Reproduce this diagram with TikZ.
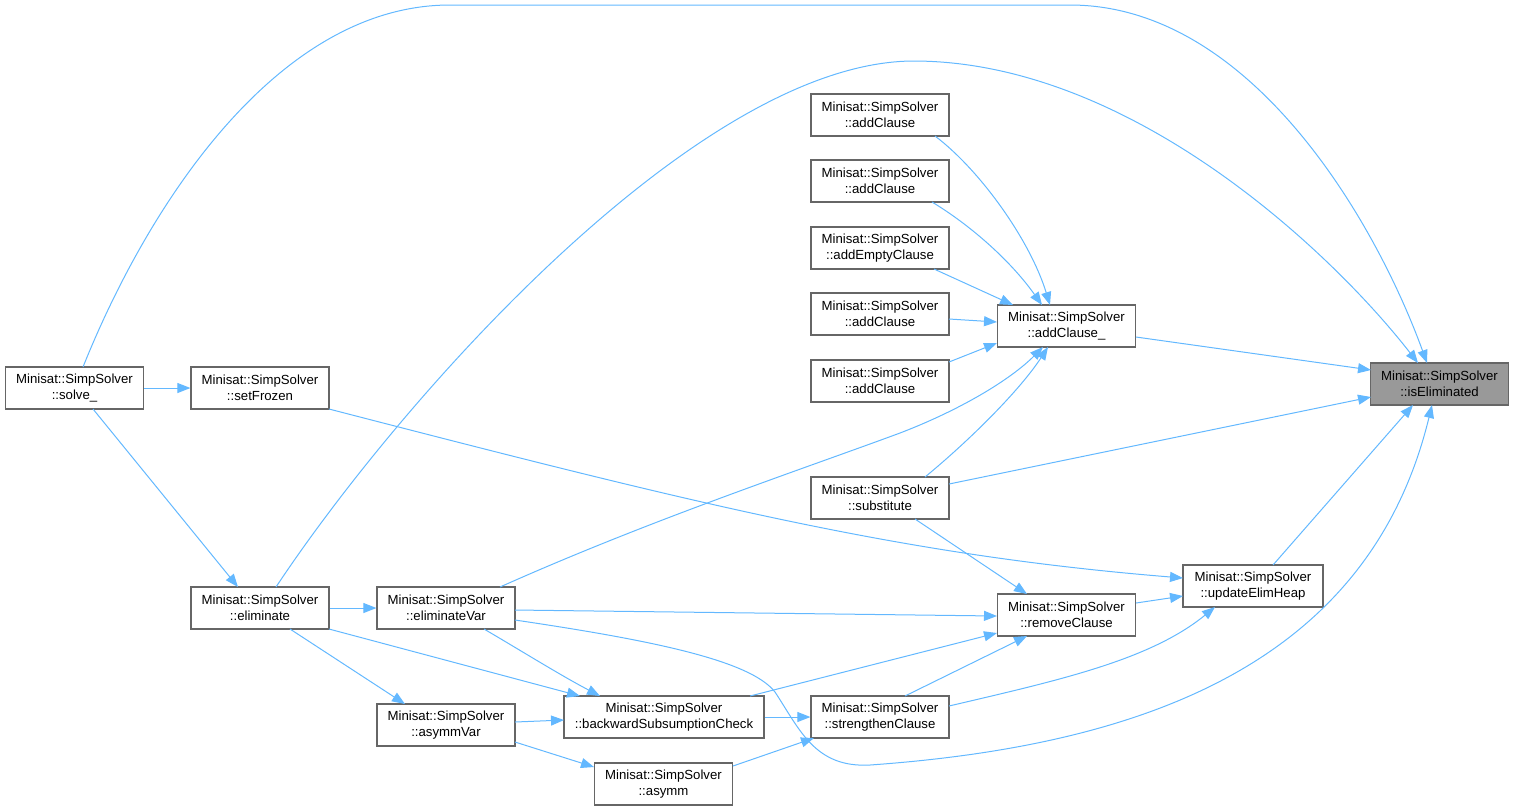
\documentclass[tikz,border=0pt]{standalone}
\usepackage{fontspec}
\setmainfont{Liberation Sans}
\usetikzlibrary{arrows.meta,calc}
\definecolor{edgeblue}{HTML}{63B8FF}
\definecolor{boxborder}{HTML}{666666}
\definecolor{focusfill}{HTML}{999999}
\tikzset{
  fn/.style={draw=boxborder, line width=0.6pt, fill=white, minimum width=69pt, minimum height=21pt,
    inner sep=0pt, align=center, font=\fontsize{6.6}{8}\selectfont},
  focus/.style={fn, fill=focusfill},
  wide/.style={minimum width=100pt},
  call/.style={draw=edgeblue, line width=0.5pt, -{Triangle[length=6.5pt,width=5pt]}},
}
\begin{document}
\begin{tikzpicture}[x=0.5pt,y=-0.5pt]
\useasboundingbox (0,0) rectangle (1514,811);
\node[focus] (isE) at (1439.5,384) {Minisat::SimpSolver\\::isEliminated};
\node[fn] (addC) at (1066.5,326) {Minisat::SimpSolver\\::addClause\_};
\node[fn] (ac1) at (880,115) {Minisat::SimpSolver\\::addClause};
\node[fn] (ac2) at (880,181) {Minisat::SimpSolver\\::addClause};
\node[fn] (aec) at (880,248) {Minisat::SimpSolver\\::addEmptyClause};
\node[fn] (ac3) at (880,314) {Minisat::SimpSolver\\::addClause};
\node[fn] (ac4) at (880,381) {Minisat::SimpSolver\\::addClause};
\node[fn] (sub) at (880,498) {Minisat::SimpSolver\\::substitute};
\node[fn] (solve) at (74.5,388) {Minisat::SimpSolver\\::solve\_};
\node[fn] (frz) at (260,388) {Minisat::SimpSolver\\::setFrozen};
\node[fn] (elim) at (260,608) {Minisat::SimpSolver\\::eliminate};
\node[fn] (ev) at (446,608) {Minisat::SimpSolver\\::eliminateVar};
\node[fn] (rc) at (1066.5,615) {Minisat::SimpSolver\\::removeClause};
\node[fn, minimum width=70pt] (ueh) at (1253,586) {Minisat::SimpSolver\\::updateElimHeap};
\node[fn, wide] (bsc) at (664,717) {Minisat::SimpSolver\\::backwardSubsumptionCheck};
\node[fn] (st) at (880,717) {Minisat::SimpSolver\\::strengthenClause};
\node[fn] (av) at (446,725) {Minisat::SimpSolver\\::asymmVar};
\node[fn] (asy) at (663.5,784) {Minisat::SimpSolver\\::asymm};

% into isEliminated
\draw[call] ($(solve.center)+(8.5,-21)$) .. controls (150,200) and (280,5) .. (450,5) -- (1070,5)
  .. controls (1250,5) and (1375,220) .. ($(isE.center)+(-12.5,-21)$);
\draw[call] ($(elim.center)+(16,-21)$) .. controls (400,400) and (700,60) .. (915,61)
  .. controls (1130,62) and (1330,250) .. ($(isE.center)+(-21.5,-21)$);
\draw[call] ($(ev.center)+(69,12)$) .. controls (650,640) and (750,660) .. (775,692)
  .. controls (800,730) and (815,768) .. (870,765)
  .. controls (1150,745) and (1370,660) .. ($(isE.center)+(-7.5,21)$);
\draw[call] ($(ueh.center)+(20,-21)$) -- ($(isE.center)+(-26.5,21)$);
\draw[call] ($(sub.center)+(69,-14)$) -- ($(isE.center)+(-68.5,13)$);
\draw[call] ($(addC.center)+(69.5,11)$) -- ($(isE.center)+(-68.5,-14)$);

% into addClause_
\draw[call] ($(ac1.center)+(55,21)$) .. controls (980,170) and (1030,240) .. ($(addC.center)+(-16.5,-21)$);
\draw[call] ($(ac2.center)+(52,21)$) .. controls (970,225) and (1010,260) .. ($(addC.center)+(-24.5,-21)$);
\draw[call] ($(aec.center)+(54,21)$) -- ($(addC.center)+(-53.5,-21)$);
\draw[call] ($(ac3.center)+(69,5)$) -- ($(addC.center)+(-69.5,-4)$);
\draw[call] ($(ac4.center)+(69,-19)$) -- ($(addC.center)+(-69.5,17)$);
\draw[call] ($(ev.center)+(54,-21)$) .. controls (650,520) and (800,470) .. (900,433)
  .. controls (960,410) and (1010,380) .. ($(addC.center)+(-23.5,21)$);
\draw[call] ($(sub.center)+(45,-21)$) .. controls (970,440) and (1020,390) .. ($(addC.center)+(-18.5,21)$);

% into updateElimHeap
\draw[call] ($(frz.center)+(69,21)$) .. controls (700,505) and (900,555) .. ($(ueh.center)+(-70,-8)$);
\draw[call] ($(rc.center)+(69.5,-12)$) -- ($(ueh.center)+(-70,10)$);
\draw[call] ($(st.center)+(69,-11)$) .. controls (1060,680) and (1150,660) .. ($(ueh.center)+(-38,21)$);

% into removeClause
\draw[call] ($(ev.center)+(69,2)$) -- ($(rc.center)+(-69.5,1)$);
\draw[call] ($(bsc.center)+(86,-21)$) -- ($(rc.center)+(-69.5,18)$);
\draw[call] ($(st.center)+(25,-21)$) -- ($(rc.center)+(-39.5,21)$);
\draw[call] ($(sub.center)+(35,21)$) -- ($(rc.center)+(-39.5,-21)$);

% left part
\draw[call] (solve.east) -- (frz.west);
\draw[call] ($(solve.center)+(18.5,21)$) -- ($(elim.center)+(-22,-21)$);
\draw[call] (elim.east) -- (ev.west);
\draw[call] ($(elim.center)+(30,21)$) -- ($(av.center)+(-41,-21)$);
\draw[call] ($(elim.center)+(69,21)$) -- ($(bsc.center)+(-84,-21)$);
\draw[call] ($(ev.center)+(38,21)$) .. controls (520,650) and (560,675) .. ($(bsc.center)+(-64,-21)$);
\draw[call] ($(av.center)+(69,-3)$) -- ($(bsc.center)+(-100,3)$);
\draw[call] ($(av.center)+(69,17)$) -- ($(asy.center)+(-69.5,-17)$);
\draw[call] (bsc.east) -- (st.west);
\draw[call] ($(asy.center)+(69.5,-18)$) -- ($(st.center)+(-66,21)$);
\end{tikzpicture}
\end{document}
